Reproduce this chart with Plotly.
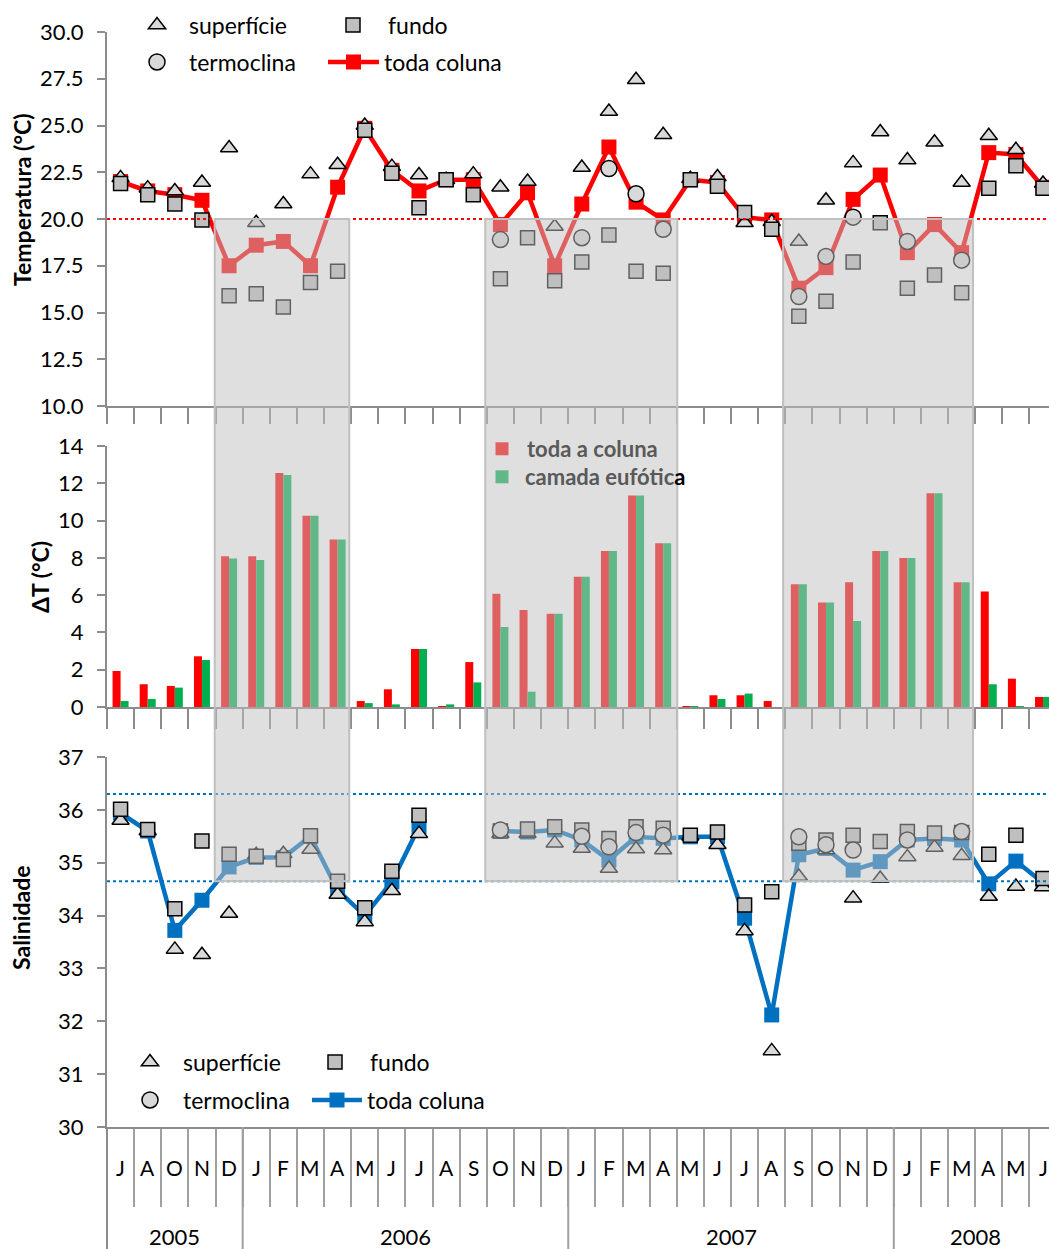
import plotly.graph_objects as go

# ---------------- data ----------------
months = ["J", "A", "O", "N", "D",
          "J", "F", "M", "A", "M", "J", "J", "A", "S", "O", "N", "D",
          "J", "F", "M", "A", "M", "J", "J", "A", "S", "O", "N", "D",
          "J", "F", "M", "A", "M", "J"]
year_names = ["2005", "2006", "2007", "2008"]
year_sizes = [5, 12, 12, 6]

N = None
temp_superficie = [22.2, 21.65, 21.5, 21.95, 23.8, 19.8, 20.8, 22.4, 22.9, 25.0,
                   22.8, 22.35, 22.1, 22.4, 21.7, 22.0, 19.6, 22.75, 25.75, 27.45,
                   24.5, 22.15, 22.25, 19.8, 19.85, 18.8, 21.0, 23.0, 24.65, 23.15,
                   24.1, 21.95, 24.45, 23.7, 21.9]
temp_fundo = [21.9, 21.3, 20.8, 19.95, 15.9, 16.0, 15.3, 16.6, 17.2, 24.75,
              22.45, 20.6, 22.1, 21.3, 16.8, 19.0, 16.7, 17.7, 19.15, 17.2,
              17.1, 22.1, 21.75, 20.35, 19.45, 14.8, 15.6, 17.7, 19.8, 16.3,
              17.0, 16.05, 21.65, 22.85, 21.65]
temp_termoclina = [N, N, N, N, N, N, N, N, N, N,
                   N, N, N, N, 18.9, N, N, 19.0, 22.7, 21.35,
                   19.45, N, N, N, N, 15.85, 18.0, 20.1, N, 18.8,
                   N, 17.8, N, N, N]
temp_toda = [22.0, 21.5, 21.3, 21.0, 17.5, 18.6, 18.8, 17.5, 21.7, 24.85,
             22.6, 21.5, 22.1, 22.1, 19.7, 21.4, 17.5, 20.8, 23.85, 20.9,
             19.95, 22.1, 21.95, 20.1, 19.95, 16.3, 17.4, 21.05, 22.35, 18.2,
             19.7, 18.2, 23.55, 23.45, 21.7]

dt_toda = [1.93, 1.22, 1.13, 2.72, 8.08, 8.08, 12.55, 10.26, 8.98, 0.32,
           0.95, 3.11, 0.04, 2.41, 6.08, 5.2, 5.0, 6.99, 8.37, 11.35,
           8.78, 0.04, 0.63, 0.63, 0.32, 6.58, 5.6, 6.69, 8.37, 7.99,
           11.46, 6.69, 6.19, 1.52, 0.54]
dt_eufotica = [0.32, 0.43, 1.04, 2.52, 7.97, 7.88, 12.44, 10.26, 8.98, 0.21,
               0.14, 3.11, 0.14, 1.32, 4.29, 0.82, 5.0, 6.99, 8.37, 11.35,
               8.78, 0.04, 0.43, 0.72, 0.0, 6.58, 5.6, 4.61, 8.37, 7.99,
               11.46, 6.69, 1.22, 0.04, 0.54]

sal_superficie = [35.8, 35.6, 33.36, 33.26, 34.04, 35.15, 35.17, 35.25, 34.4, 33.88,
                  34.47, 35.55, N, N, 35.55, 35.55, 35.37, 35.27, 34.89, 35.26,
                  35.24, 35.5, 35.34, 33.71, 31.44, 34.74, 35.24, 34.33, 34.7, 35.11,
                  35.29, 35.13, 34.36, 34.55, 34.54]
sal_fundo = [36.01, 35.63, 34.13, 35.41, 35.16, 35.12, 35.06, 35.51, 34.65, 34.15,
             34.84, 35.9, N, N, 35.6, 35.64, 35.68, 35.62, 35.46, 35.68,
             35.65, 35.52, 35.58, 34.2, 34.45, 35.37, 35.43, 35.52, 35.4, 35.59,
             35.56, 35.57, 35.16, 35.52, 34.7]
sal_termoclina = [N, N, N, N, N, N, N, N, N, N,
                  N, N, N, N, 35.62, N, N, 35.5, 35.3, 35.57,
                  35.52, N, N, N, N, 35.49, 35.34, 35.24, N, 35.43,
                  N, 35.59, N, N, N]
sal_toda = [35.94, 35.6, 33.72, 34.29, 34.92, 35.1, 35.1, 35.5, 34.48, 34.0,
            34.64, 35.68, N, N, 35.6, 35.58, 35.62, 35.43, 35.05, 35.49,
            35.46, 35.49, 35.49, 33.95, 32.12, 35.15, 35.27, 34.86, 35.02, 35.43,
            35.46, 35.43, 34.6, 35.03, 34.62]

temp_limit = 20.0
sal_limits = [36.3, 34.65]

# shaded stratified periods, in category-index units
periods = [(3.47, 8.43), (13.44, 20.52), (24.42, 31.42)]

# ---------------- geometry ----------------
W, H = 1049, 1249
ML, MR, MT, MB = 107, 0, 32, 122
PW = W - ML - MR
PH = H - MT - MB


def px_x(X):
    return (X - ML) / PW


def px_y(Y):
    return (H - MB - Y) / PH


dom_t = [px_y(406), 1.0]
dom_m = [px_y(707), px_y(446)]
dom_b = [0.0, px_y(757)]
rng_t = [10, 30]
rng_m = [0, 14]
rng_b = [30, 37]
xr = [-0.5, 34.22]


def to_paper(v, dom, rng):
    return dom[0] + (v - rng[0]) / (rng[1] - rng[0]) * (dom[1] - dom[0])


x = list(range(len(months)))
FONT = "Lato"
AX = "#8C8C8C"

tri = dict(symbol="triangle-up", size=15, color="#D9D9D9", line=dict(color="black", width=1.5))
sqr = dict(symbol="square", size=14, color="#BFBFBF", line=dict(color="black", width=1.5))
cir = dict(symbol="circle", size=16, color="#D9D9D9", line=dict(color="black", width=1.5))

fig = go.Figure()

# ---- temperature panel ----
fig.add_trace(go.Scatter(x=x, y=temp_toda, mode="lines+markers", name="toda coluna",
                         line=dict(color="#FF0000", width=4.5),
                         marker=dict(symbol="square", size=15, color="#FF0000"),
                         xaxis="x", yaxis="y", legend="legend4"))
fig.add_trace(go.Scatter(x=x, y=temp_superficie, mode="markers", name="superfície",
                         marker=tri, xaxis="x", yaxis="y", legend="legend"))
fig.add_trace(go.Scatter(x=x, y=temp_fundo, mode="markers", name="fundo",
                         marker=sqr, xaxis="x", yaxis="y", legend="legend2"))
fig.add_trace(go.Scatter(x=x, y=temp_termoclina, mode="markers", name="termoclina",
                         marker=cir, xaxis="x", yaxis="y", legend="legend3"))

# ---- delta T panel ----
fig.add_trace(go.Bar(x=x, y=dt_toda, name="toda a coluna", marker=dict(color="#FF0000"),
                     xaxis="x2", yaxis="y2", showlegend=False))
fig.add_trace(go.Bar(x=x, y=dt_eufotica, name="camada eufótica", marker=dict(color="#00B050"),
                     xaxis="x2", yaxis="y2", showlegend=False))
fig.add_trace(go.Scatter(x=[None], y=[None], mode="markers", name="<b>toda a coluna</b>",
                         marker=dict(symbol="square", size=13, color="#E06060"),
                         xaxis="x2", yaxis="y2", legend="legend9"))
fig.add_trace(go.Scatter(x=[None], y=[None], mode="markers",
                         name="<b>camada eufótic<span style='color:#000000'>a</span></b>",
                         marker=dict(symbol="square", size=13, color="#60B888"),
                         xaxis="x2", yaxis="y2", legend="legend10"))

# ---- salinity panel ----
fig.add_trace(go.Scatter(x=x, y=sal_toda, mode="lines+markers", name="toda coluna",
                         line=dict(color="#0070C0", width=4.5),
                         marker=dict(symbol="square", size=15, color="#0070C0"),
                         xaxis="x3", yaxis="y3", legend="legend8"))
fig.add_trace(go.Scatter(x=x, y=sal_superficie, mode="markers", name="superfície",
                         marker=tri, xaxis="x3", yaxis="y3", legend="legend5"))
fig.add_trace(go.Scatter(x=x, y=sal_fundo, mode="markers", name="fundo",
                         marker=sqr, xaxis="x3", yaxis="y3", legend="legend6"))
fig.add_trace(go.Scatter(x=x, y=sal_termoclina, mode="markers", name="termoclina",
                         marker=cir, xaxis="x3", yaxis="y3", legend="legend7"))

# ---- axes ----
bounds = [i - 0.5 for i in range(len(months) + 1)]


def xaxis(dom_anchor, ticklen, tickcolor=AX):
    return dict(range=xr, domain=[0, 1], anchor=dom_anchor, showline=True, linecolor=AX,
                linewidth=2, ticks="outside", tickmode="array", tickvals=bounds,
                ticklen=ticklen, tickcolor=tickcolor, tickwidth=2, showticklabels=False,
                showgrid=False, zeroline=False)


def yaxis(dom, rng, dtick, fmt=None):
    d = dict(domain=dom, range=rng, dtick=dtick, tick0=rng[0], showline=True, linecolor=AX,
             linewidth=2, ticks="outside", ticklen=8, tickcolor=AX, tickwidth=2,
             showgrid=False, zeroline=False, tickfont=dict(family=FONT, size=22, color="black"),
             ticklabelstandoff=9)
    if fmt:
        d["tickformat"] = fmt
    return d


fig.update_layout(
    xaxis=xaxis("y", 16),
    xaxis2=xaxis("y2", 20),
    xaxis3=xaxis("y3", 78, "#A0A0A0"),
    yaxis=yaxis(dom_t, rng_t, 2.5, ".1f"),
    yaxis2=yaxis(dom_m, rng_m, 2),
    yaxis3=yaxis(dom_b, rng_b, 1),
)

# ---- shapes: reference lines, shaded periods, year separators ----
shapes = [dict(type="line", xref="x domain", x0=0, x1=1, yref="y", y0=temp_limit, y1=temp_limit,
               line=dict(color="#FF0000", width=2, dash="dot"), layer="above")]
for v in sal_limits:
    shapes.append(dict(type="line", xref="x3 domain", x0=0, x1=1, yref="y3", y0=v, y1=v,
                       line=dict(color="#0070C0", width=2, dash="dot"), layer="above"))
shade_bottom = to_paper(sal_limits[1], dom_b, rng_b)
shade_top = to_paper(temp_limit, dom_t, rng_t)
for a, b in periods:
    shapes.append(dict(type="rect", xref="x", x0=a, x1=b, yref="paper", y0=shade_bottom, y1=shade_top,
                       fillcolor="rgba(192,192,192,0.5)", line=dict(color="#C0C0C0", width=2),
                       layer="above"))
start = 0
sep_bottom = px_y(H)
shapes.append(dict(type="line", xref="paper", x0=0, x1=0, yref="paper", y0=0, y1=sep_bottom,
                   line=dict(color=AX, width=2)))
for n in year_sizes[:-1]:
    start += n
    shapes.append(dict(type="line", xref="x3", x0=start - 0.5, x1=start - 0.5, yref="paper",
                       y0=0, y1=sep_bottom, line=dict(color="#A0A0A0", width=2)))

# ---- annotations: month and year labels, axis titles ----
ann = []
for i, m in enumerate(months):
    ann.append(dict(x=i, y=px_y(1167), xref="x3", yref="paper", text=m, showarrow=False,
                    font=dict(family=FONT, size=21, color="black"), xanchor="center", yanchor="middle"))
start = 0
for name, n in zip(year_names, year_sizes):
    ann.append(dict(x=start + (n - 1) / 2, y=px_y(1236), xref="x3", yref="paper", text=name,
                    showarrow=False, font=dict(family=FONT, size=22, color="black"),
                    xanchor="center", yanchor="middle"))
    start += n
for text, X, Y in [("<b>Temperatura (°C)</b>", 22, 200), ("<b>ΔT (°C)</b>", 40, 577),
                   ("<b>Salinidade</b>", 21, 918)]:
    ann.append(dict(x=px_x(X), y=px_y(Y), xref="paper", yref="paper", text=text, textangle=-90,
                    showarrow=False, font=dict(family=FONT, size=23, color="black"),
                    xanchor="center", yanchor="middle"))


# ---- legends ----
def leg(X_left, Y_center, iw, size=23, color="black"):
    return dict(x=px_x(X_left), y=px_y(Y_center), xanchor="left", yanchor="middle",
                itemwidth=iw, bgcolor="rgba(0,0,0,0)", borderwidth=0,
                font=dict(family=FONT, size=size, color=color), tracegroupgap=0)


fig.update_layout(
    legend=leg(125, 25, 54),
    legend2=leg(318, 25, 60),
    legend3=leg(125, 62, 54),
    legend4=leg(323, 62, 51),
    legend5=leg(117, 1062, 56),
    legend6=leg(300, 1062, 60),
    legend7=leg(117, 1100, 56),
    legend8=leg(307, 1100, 50),
    legend9=leg(477, 449, 40, 22, "#595959"),
    legend10=leg(479, 477, 36, 22, "#595959"),
)

fig.update_layout(
    template="none",
    width=W, height=H,
    margin=dict(l=ML, r=MR, t=MT, b=MB, autoexpand=False),
    paper_bgcolor="white", plot_bgcolor="rgba(0,0,0,0)",
    font=dict(family=FONT, size=20, color="black"),
    barmode="group", bargap=0.41, bargroupgap=0,
    shapes=shapes, annotations=ann,
)

fig.write_html("out.html")
